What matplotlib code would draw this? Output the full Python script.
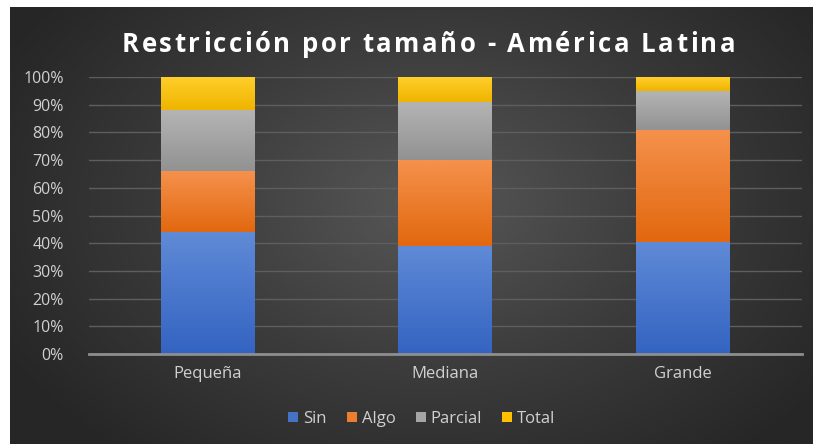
import numpy as np
import matplotlib
matplotlib.use("Agg")
import matplotlib.pyplot as plt
from matplotlib.colors import LinearSegmentedColormap

categories = ["Pequeña", "Mediana", "Grande"]
series_names = ["Sin", "Algo", "Parcial", "Total"]
sin = [44, 39, 40.5]
algo = [22, 31, 40.5]
parcial = [22, 21, 14]
total = [12, 9, 5]
yticks = [0, 10, 20, 30, 40, 50, 60, 70, 80, 90, 100]
ytick_labels = [f"{v}%" for v in yticks]
title = "Restricción por tamaño - América Latina"

series = [sin, algo, parcial, total]
colors = ["#4472c4", "#ed7d31", "#a5a5a5", "#ffc000"]
grad = [("#5f8ad6", "#3464c2"), ("#f5914c", "#e2680f"),
        ("#b4b4b4", "#929292"), ("#ffcf2a", "#f0b400")]

W, H = 813, 444
fig = plt.figure(figsize=(W / 100, H / 100), dpi=100)
fig.patch.set_facecolor("white")

font = ["Open Sans", "DejaVu Sans"]

# background with radial gradient
bg = fig.add_axes([10 / W, 0, 1 - 10 / W, 1 - 7 / H])
ny, nx = 200, 400
yy, xx = np.mgrid[0:ny, 0:nx]
r = np.sqrt(((xx - nx * 0.52) / (nx * 0.6)) ** 2 + ((yy - ny * 0.45) / (ny * 0.75)) ** 2)
r = np.clip(r, 0, 1)
cmap_bg = LinearSegmentedColormap.from_list("bg", ["#575757", "#3c3c3c", "#262626"])
bg.imshow(r, cmap=cmap_bg, aspect="auto", extent=[0, 1, 0, 1], vmin=0, vmax=1)
bg.set_axis_off()

ax = fig.add_axes([88.75 / W, 1 - 354 / H, (801.75 - 88.75) / W, (354 - 77) / H])
ax.patch.set_alpha(0)
x = np.arange(len(categories))
bottom = np.zeros(len(categories))
handles = []
for name, vals, c, (gt, gb) in zip(series_names, series, colors, grad):
    bars = ax.bar(x, vals, 0.395, bottom=bottom, color=c, label=name, zorder=3,
                  edgecolor="none")
    handles.append(bars)
    cm = LinearSegmentedColormap.from_list(name, [gb, gt])
    for b in bars:
        x0, y0 = b.get_x(), b.get_y()
        w, h = b.get_width(), b.get_height()
        g = np.linspace(0, 1, 64).reshape(-1, 1)
        im = ax.imshow(g, cmap=cm, aspect="auto", origin="lower",
                       extent=[x0, x0 + w, y0, y0 + h], zorder=4)
        im.set_clip_path(b)
    bottom += np.array(vals)

ax.set_xlim(-0.5, 2.5)
ax.set_ylim(0, 100)
ax.set_yticks(yticks)
ax.set_yticklabels(ytick_labels, fontfamily=font, fontsize=11.5, color="#d0d0d0")
ax.set_xticks(x)
ax.set_xticklabels(categories, fontfamily=font, fontsize=12, color="#d0d0d0")
ax.tick_params(axis="both", length=0)
ax.tick_params(axis="y", pad=18)
ax.tick_params(axis="x", pad=9)
ax.grid(axis="y", color="#5e5e5e", linewidth=1, zorder=0)
for s in ["top", "right", "left"]:
    ax.spines[s].set_visible(False)
ax.spines["bottom"].set_color("#8e8e8e")
ax.spines["bottom"].set_linewidth(2)
ax.spines["bottom"].set_zorder(5)

# title with letter spacing
renderer = fig.canvas.get_renderer()
tkw = dict(fontsize=18.5, fontweight="bold", color="white", fontfamily=font)
probe = fig.text(0, 0, title, **tkw)
full_w = probe.get_window_extent(renderer).width
probe.remove()
target_w = 613.0
spacing = max(0.0, (target_w - full_w) / (len(title) - 1))
x_start = 428.5 - (full_w + spacing * (len(title) - 1)) / 2
prefix_w = [0.0]
for i in range(1, len(title)):
    p = fig.text(0, 0, title[:i].replace(" ", "\u00a0"), **tkw)
    prefix_w.append(p.get_window_extent(renderer).width)
    p.remove()
for i, ch in enumerate(title):
    if ch == " ":
        continue
    px = x_start + prefix_w[i] + i * spacing
    fig.text(px / W, 1 - 42 / H, ch, ha="left", va="center_baseline", **tkw)

leg = fig.legend(handles=handles, labels=series_names, loc="center",
                 bbox_to_anchor=(422 / W, 1 - 419 / H), ncol=4, frameon=False,
                 prop={"family": font, "size": 12}, handlelength=0.6,
                 handleheight=0.6, handletextpad=0.3, columnspacing=1.2)
for t in leg.get_texts():
    t.set_color("#d0d0d0")

fig.savefig("out.png", dpi=100, facecolor=fig.get_facecolor())
